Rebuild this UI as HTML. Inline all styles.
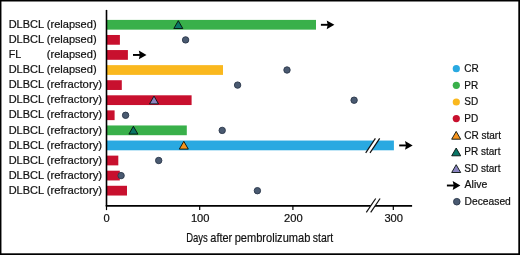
<!DOCTYPE html>
<html><head><meta charset="utf-8"><title>Swimmer plot</title>
<style>
html,body{margin:0;padding:0;background:#fff;}
svg{display:block;}
text{font-family:"Liberation Sans",sans-serif;fill:#111;stroke:#111;stroke-width:0.2px;}
</style></head><body>
<svg width="520" height="255" viewBox="0 0 520 255">
<rect x="0" y="0" width="520" height="255" fill="#fff"/>
<rect x="106.6" y="19.90" width="209.4" height="9.75" fill="#39b04a"/>
<rect x="106.6" y="34.98" width="13.3" height="9.75" fill="#c8102e"/>
<rect x="106.6" y="50.06" width="21.3" height="9.75" fill="#c8102e"/>
<rect x="106.6" y="65.14" width="116.4" height="9.75" fill="#fab81e"/>
<rect x="106.6" y="80.22" width="15.2" height="9.75" fill="#c8102e"/>
<rect x="106.6" y="95.30" width="85.0" height="9.75" fill="#c8102e"/>
<rect x="106.6" y="110.38" width="8.0" height="9.75" fill="#c8102e"/>
<rect x="106.6" y="125.46" width="80.2" height="9.75" fill="#39b04a"/>
<rect x="106.6" y="140.54" width="287.3" height="9.75" fill="#29a9e1"/>
<rect x="106.6" y="155.62" width="11.7" height="9.75" fill="#c8102e"/>
<rect x="106.6" y="170.70" width="13.2" height="9.75" fill="#c8102e"/>
<rect x="106.6" y="185.78" width="20.4" height="9.75" fill="#c8102e"/>
<line x1="106.50" y1="9.9" x2="106.50" y2="206" stroke="#000" stroke-width="1.6"/>
<line x1="106.50" y1="206" x2="106.50" y2="210.1" stroke="#000" stroke-width="1.2"/>
<line x1="105.70" y1="205.85" x2="412.1" y2="205.85" stroke="#000" stroke-width="1.6"/>
<line x1="199.7" y1="206" x2="199.7" y2="209.9" stroke="#000" stroke-width="1.2"/>
<line x1="292.9" y1="206" x2="292.9" y2="209.9" stroke="#000" stroke-width="1.2"/>
<line x1="393.3" y1="206" x2="393.3" y2="209.9" stroke="#000" stroke-width="1.2"/>
<polygon points="365.7,152.9 375.4,138.3 379.7,138.3 370.0,152.9" fill="#fff"/>
<line x1="365.7" y1="152.9" x2="375.4" y2="138.3" stroke="#111" stroke-width="1.2"/>
<line x1="370.0" y1="152.9" x2="379.7" y2="138.3" stroke="#111" stroke-width="1.2"/>
<polygon points="366.3,212.3 375.7,198.5 380.1,198.5 370.7,212.3" fill="#fff"/>
<line x1="366.3" y1="212.3" x2="375.7" y2="198.5" stroke="#111" stroke-width="1.2"/>
<line x1="370.7" y1="212.3" x2="380.1" y2="198.5" stroke="#111" stroke-width="1.2"/>
<line x1="320.9" y1="24.80" x2="328.2" y2="24.80" stroke="#000" stroke-width="1.9"/>
<polygon points="334.4,24.80 326.7,20.40 327.7,24.80 326.7,29.20" fill="#000"/>
<line x1="133.0" y1="54.96" x2="140.3" y2="54.96" stroke="#000" stroke-width="1.9"/>
<polygon points="146.5,54.96 138.8,50.56 139.8,54.96 138.8,59.36" fill="#000"/>
<line x1="399.2" y1="145.44" x2="406.5" y2="145.44" stroke="#000" stroke-width="1.9"/>
<polygon points="412.7,145.44 405.0,141.04 406.0,145.44 405.0,149.84" fill="#000"/>
<polygon points="178.3,20.7 173.8,28.5 182.8,28.5" fill="#0a7666" stroke="#05100c" stroke-width="0.9" stroke-linejoin="miter"/>
<polygon points="154.0,96.1 149.5,103.9 158.5,103.9" fill="#8a84c0" stroke="#05100c" stroke-width="0.9" stroke-linejoin="miter"/>
<polygon points="133.4,126.3 128.9,134.1 137.9,134.1" fill="#0a7666" stroke="#05100c" stroke-width="0.9" stroke-linejoin="miter"/>
<polygon points="183.8,141.3 179.3,149.1 188.3,149.1" fill="#f7941d" stroke="#05100c" stroke-width="0.9" stroke-linejoin="miter"/>
<circle cx="185.6" cy="39.9" r="3.2" fill="#4a5a71" stroke="#2d3a4d" stroke-width="0.95"/>
<circle cx="287.0" cy="70.0" r="3.2" fill="#4a5a71" stroke="#2d3a4d" stroke-width="0.95"/>
<circle cx="237.6" cy="85.1" r="3.2" fill="#4a5a71" stroke="#2d3a4d" stroke-width="0.95"/>
<circle cx="354.1" cy="100.2" r="3.2" fill="#4a5a71" stroke="#2d3a4d" stroke-width="0.95"/>
<circle cx="125.6" cy="115.3" r="3.2" fill="#4a5a71" stroke="#2d3a4d" stroke-width="0.95"/>
<circle cx="222.2" cy="130.4" r="3.2" fill="#4a5a71" stroke="#2d3a4d" stroke-width="0.95"/>
<circle cx="158.7" cy="160.5" r="3.2" fill="#4a5a71" stroke="#2d3a4d" stroke-width="0.95"/>
<circle cx="121.1" cy="175.6" r="3.2" fill="#4a5a71" stroke="#2d3a4d" stroke-width="0.95"/>
<circle cx="257.4" cy="190.7" r="3.2" fill="#4a5a71" stroke="#2d3a4d" stroke-width="0.95"/>
<text y="27.9" font-size="10.4"><tspan x="8.7" textLength="35.0" lengthAdjust="spacingAndGlyphs">DLBCL</tspan> <tspan x="46.8" textLength="49.8" lengthAdjust="spacingAndGlyphs">(relapsed)</tspan></text>
<text y="43.0" font-size="10.4"><tspan x="8.7" textLength="35.0" lengthAdjust="spacingAndGlyphs">DLBCL</tspan> <tspan x="46.8" textLength="49.8" lengthAdjust="spacingAndGlyphs">(relapsed)</tspan></text>
<text y="58.1" font-size="10.4"><tspan x="8.7" textLength="12.0" lengthAdjust="spacingAndGlyphs">FL</tspan> <tspan x="46.8" textLength="49.8" lengthAdjust="spacingAndGlyphs">(relapsed)</tspan></text>
<text y="73.1" font-size="10.4"><tspan x="8.7" textLength="35.0" lengthAdjust="spacingAndGlyphs">DLBCL</tspan> <tspan x="46.8" textLength="49.8" lengthAdjust="spacingAndGlyphs">(relapsed)</tspan></text>
<text y="88.2" font-size="10.4"><tspan x="8.7" textLength="35.0" lengthAdjust="spacingAndGlyphs">DLBCL</tspan> <tspan x="46.8" textLength="55.3" lengthAdjust="spacingAndGlyphs">(refractory)</tspan></text>
<text y="103.3" font-size="10.4"><tspan x="8.7" textLength="35.0" lengthAdjust="spacingAndGlyphs">DLBCL</tspan> <tspan x="46.8" textLength="55.3" lengthAdjust="spacingAndGlyphs">(refractory)</tspan></text>
<text y="118.4" font-size="10.4"><tspan x="8.7" textLength="35.0" lengthAdjust="spacingAndGlyphs">DLBCL</tspan> <tspan x="46.8" textLength="55.3" lengthAdjust="spacingAndGlyphs">(refractory)</tspan></text>
<text y="133.5" font-size="10.4"><tspan x="8.7" textLength="35.0" lengthAdjust="spacingAndGlyphs">DLBCL</tspan> <tspan x="46.8" textLength="55.3" lengthAdjust="spacingAndGlyphs">(refractory)</tspan></text>
<text y="148.5" font-size="10.4"><tspan x="8.7" textLength="35.0" lengthAdjust="spacingAndGlyphs">DLBCL</tspan> <tspan x="46.8" textLength="55.3" lengthAdjust="spacingAndGlyphs">(refractory)</tspan></text>
<text y="163.6" font-size="10.4"><tspan x="8.7" textLength="35.0" lengthAdjust="spacingAndGlyphs">DLBCL</tspan> <tspan x="46.8" textLength="55.3" lengthAdjust="spacingAndGlyphs">(refractory)</tspan></text>
<text y="178.7" font-size="10.4"><tspan x="8.7" textLength="35.0" lengthAdjust="spacingAndGlyphs">DLBCL</tspan> <tspan x="46.8" textLength="55.3" lengthAdjust="spacingAndGlyphs">(refractory)</tspan></text>
<text y="193.8" font-size="10.4"><tspan x="8.7" textLength="35.0" lengthAdjust="spacingAndGlyphs">DLBCL</tspan> <tspan x="46.8" textLength="55.3" lengthAdjust="spacingAndGlyphs">(refractory)</tspan></text>
<text x="103.5" y="222.45" font-size="10.4" textLength="6.2" lengthAdjust="spacingAndGlyphs">0</text>
<text x="190.9" y="222.45" font-size="10.4" textLength="18.6" lengthAdjust="spacingAndGlyphs">100</text>
<text x="284.0" y="222.45" font-size="10.4" textLength="18.6" lengthAdjust="spacingAndGlyphs">200</text>
<text x="384.4" y="222.45" font-size="10.4" textLength="18.6" lengthAdjust="spacingAndGlyphs">300</text>
<text y="241.6" font-size="13"><tspan x="186.2" textLength="21.6" lengthAdjust="spacingAndGlyphs">Days</tspan> <tspan x="210.3" textLength="21.9" lengthAdjust="spacingAndGlyphs">after</tspan> <tspan x="234.7" textLength="75.6" lengthAdjust="spacingAndGlyphs">pembrolizumab</tspan> <tspan x="312.8" textLength="20.4" lengthAdjust="spacingAndGlyphs">start</tspan></text>
<circle cx="456.3" cy="68.7" r="3.6" fill="#29a9e1"/>
<text x="464.3" y="71.9" font-size="10">CR</text>
<circle cx="456.3" cy="85.3" r="3.6" fill="#39b04a"/>
<text x="464.3" y="88.5" font-size="10">PR</text>
<circle cx="456.3" cy="102.0" r="3.6" fill="#fab81e"/>
<text x="464.3" y="105.2" font-size="10">SD</text>
<circle cx="456.3" cy="118.6" r="3.6" fill="#c8102e"/>
<text x="464.3" y="121.8" font-size="10">PD</text>
<polygon points="456.2,131.4 451.7,139.2 460.7,139.2" fill="#f7941d" stroke="#05100c" stroke-width="0.9" stroke-linejoin="miter"/>
<text x="464.3" y="138.7" font-size="10">CR start</text>
<polygon points="456.2,148.0 451.7,155.8 460.7,155.8" fill="#0a7666" stroke="#05100c" stroke-width="0.9" stroke-linejoin="miter"/>
<text x="464.3" y="155.3" font-size="10">PR start</text>
<polygon points="456.2,164.7 451.7,172.5 460.7,172.5" fill="#8a84c0" stroke="#05100c" stroke-width="0.9" stroke-linejoin="miter"/>
<text x="464.3" y="172.0" font-size="10">SD start</text>
<line x1="446.9" y1="185.51" x2="454.2" y2="185.51" stroke="#000" stroke-width="1.9"/>
<polygon points="460.4,185.51 452.7,181.11 453.7,185.51 452.7,189.91" fill="#000"/>
<text x="464.6" y="188.4" font-size="10" textLength="22.7" lengthAdjust="spacingAndGlyphs">Alive</text>
<circle cx="456.8" cy="201.7" r="3.3" fill="#4a5a71" stroke="#2d3a4d" stroke-width="0.95"/>
<text x="464.6" y="204.9" font-size="10" textLength="46.2" lengthAdjust="spacingAndGlyphs">Deceased</text>
<rect x="0" y="0" width="520" height="1.5" fill="#000"/>
<rect x="0" y="0" width="1.45" height="255" fill="#000"/>
<rect x="518.3" y="0" width="1.7" height="255" fill="#000"/>
<rect x="0" y="253.3" width="520" height="1.7" fill="#000"/>
</svg></body></html>
